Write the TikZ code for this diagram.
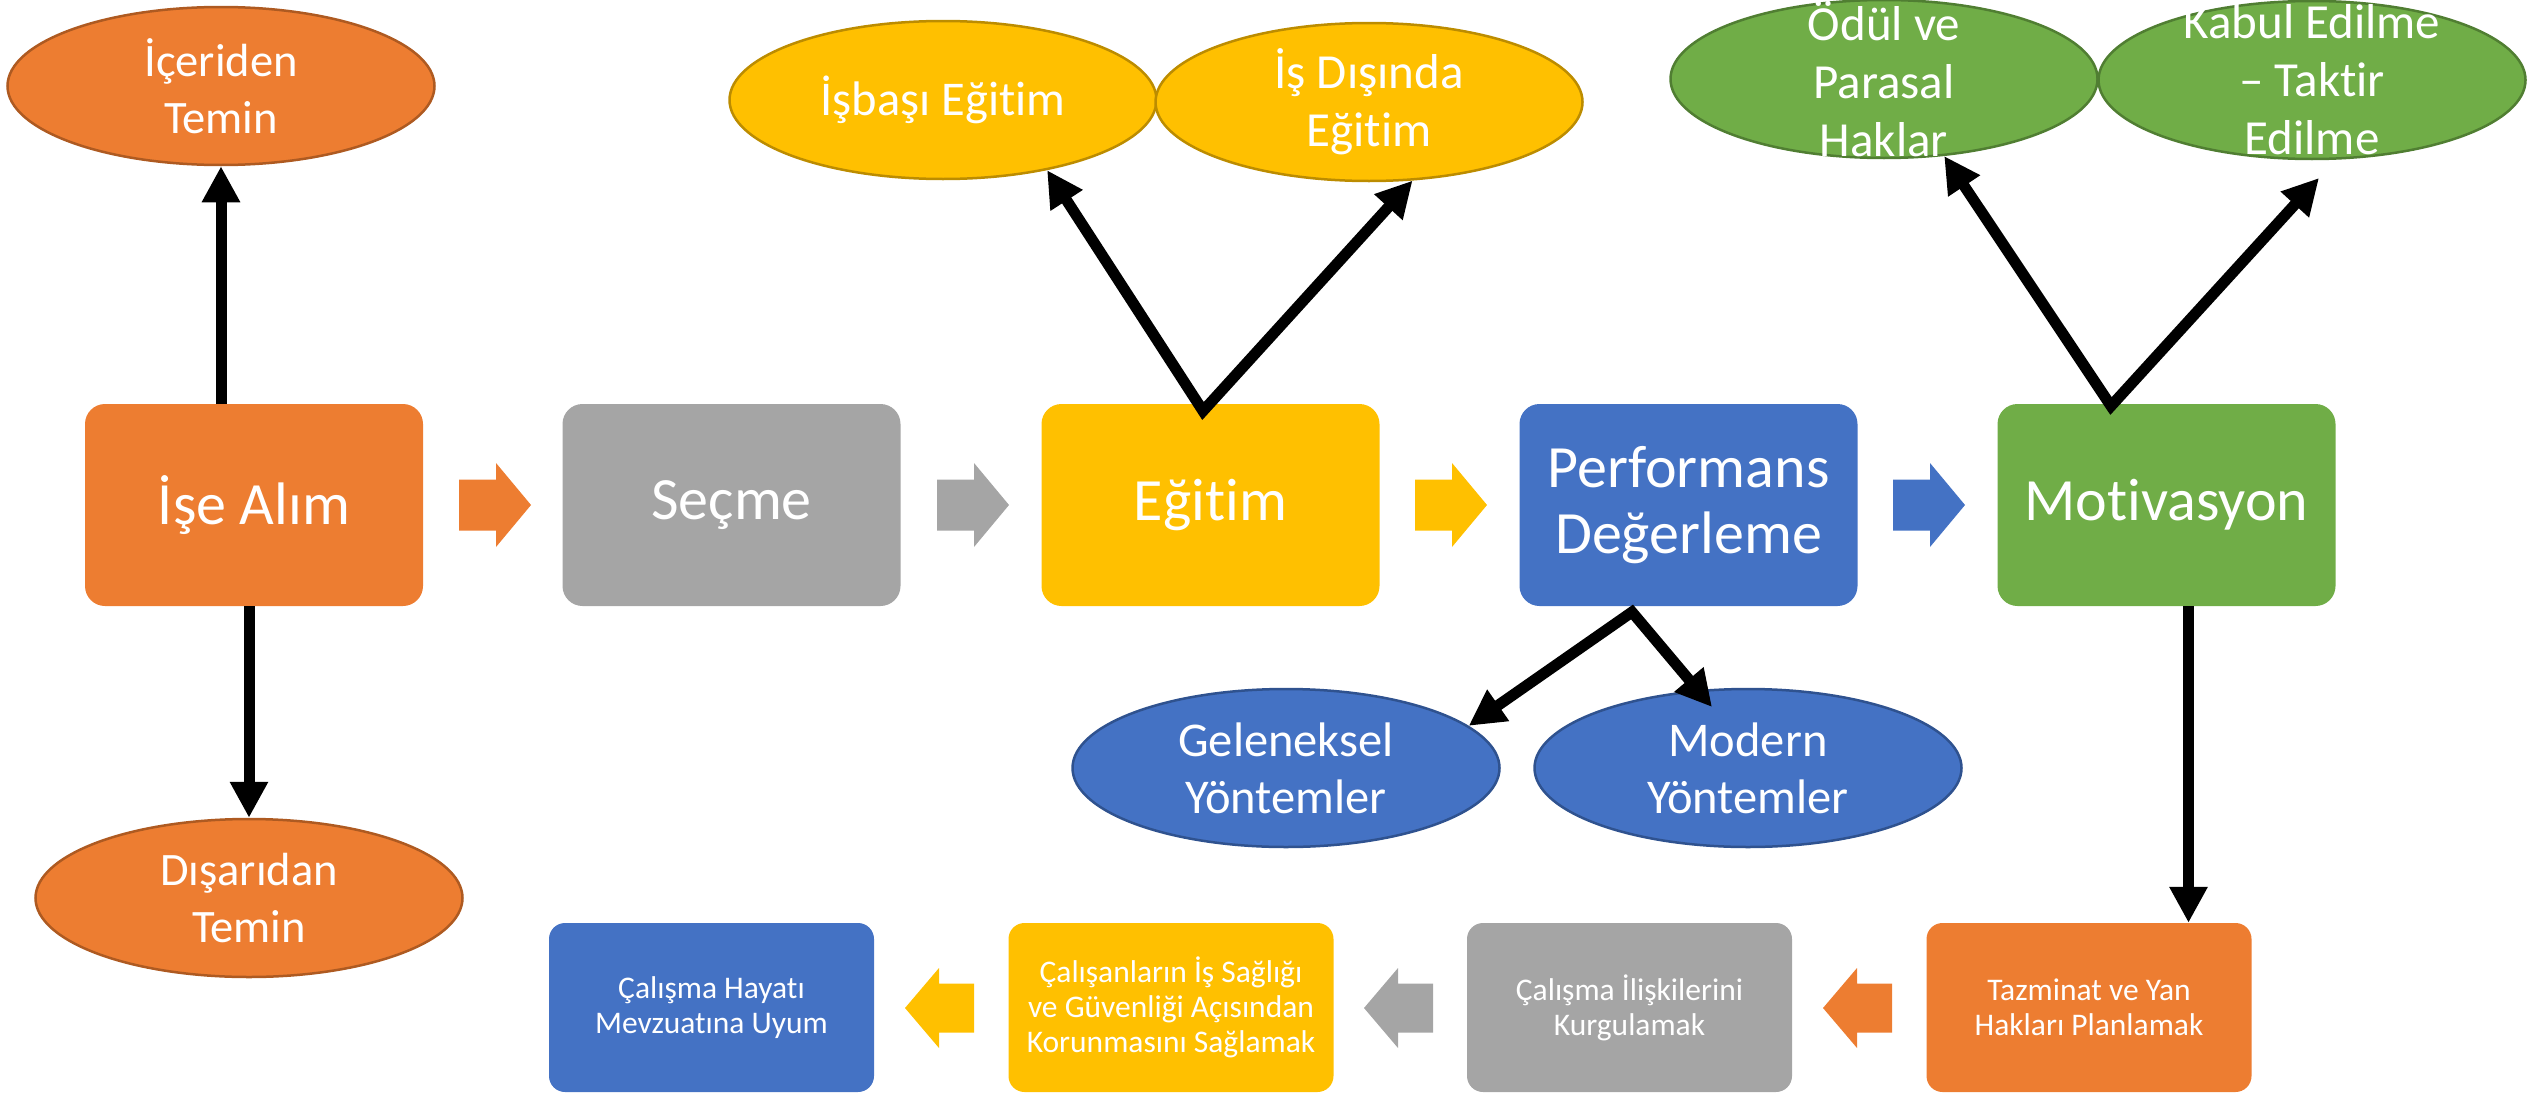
\documentclass[tikz,border=0pt]{standalone}
\usepackage{fontspec}
\setmainfont{Carlito}[Ligatures=CommonOff]
\usetikzlibrary{shapes.geometric,arrows.meta,calc}
\definecolor{cOr}{HTML}{ED7D31}
\definecolor{cOrB}{HTML}{AE5A21}
\definecolor{cGr}{HTML}{A5A5A5}
\definecolor{cYe}{HTML}{FFC000}
\definecolor{cYeB}{HTML}{BC8C00}
\definecolor{cBl}{HTML}{4472C4}
\definecolor{cBlB}{HTML}{2F528F}
\definecolor{cGn}{HTML}{70AD47}
\definecolor{cGnB}{HTML}{507E32}
\tikzset{
  pics/chevr/.style={code={\fill[#1] (-37,-25.5) -- (0,-25.5) -- (0,-42) -- (35,0) -- (0,42) -- (0,25.5) -- (-37,25.5) -- cycle;}},
  pics/chevl/.style={code={\fill[#1] (35,-24.5) -- (0,-24.5) -- (0,-40) -- (-34,0) -- (0,40) -- (0,24.5) -- (35,24.5) -- cycle;}},
}
\begin{document}
\begin{tikzpicture}[x=1pt,y=-1pt,
  mainbox/.style={rectangle, rounded corners=20pt, minimum width=338pt, minimum height=202pt, inner sep=0pt, text=white, align=center, font=\fontsize{60}{66}\selectfont},
  subbox/.style={rectangle, rounded corners=16pt, minimum width=325pt, minimum height=169pt, inner sep=0pt, text=white, align=center, font=\fontsize{31.5}{35}\selectfont},
  ell/.style={ellipse, minimum width=427pt, minimum height=158pt, inner sep=0pt, line width=2.5pt},
  etext/.style={text=white, align=center, inner sep=0pt, font=\fontsize{46.5}{57}\selectfont},
  etextm/.style={text=white, align=center, inner sep=0pt, font=\fontsize{48.5}{57}\selectfont},
  etexts/.style={text=white, align=center, inner sep=0pt, font=\fontsize{49}{58}\selectfont},
  arr/.style={line width=11pt, -{Triangle[length=36pt,width=36pt]}},
  arrboth/.style={line width=11pt, line join=miter, {Triangle[length=36pt,width=36pt]}-{Triangle[length=36pt,width=36pt]}},
]
\useasboundingbox (0,0) rectangle (2529,1092);

% main row
\node[mainbox, fill=cOr] (isealim) at (254,505) {İşe Alım};
\node[mainbox, fill=cGr] (secme) at (731.5,505) {Seçme};
\node[mainbox, fill=cYe] (egitim) at (1210.5,505) {Eğitim};
\node[mainbox, fill=cBl] (perf) at (1688.5,505) {Performans\\Değerleme};
\node[mainbox, fill=cGn] (motiv) at (2166.5,505) {Motivasyon};

\pic at (496,505) {chevr=cOr};
\pic at (974,505) {chevr=cGr};
\pic at (1452,505) {chevr=cYe};
\pic at (1930,505) {chevr=cBl};

% bottom row
\node[subbox, fill=cBl] (mevzuat) at (711.5,1007.5) {Çalışma Hayatı\\Mevzuatına Uyum};
\node[subbox, fill=cYe] (saglik) at (1171,1007.5) {Çalışanların İş Sağlığı\\ve Güvenliği Açısından\\Korunmasını Sağlamak};
\node[subbox, fill=cGr] (iliski) at (1629.5,1007.5) {Çalışma İlişkilerini\\Kurgulamak};
\node[subbox, fill=cOr] (tazminat) at (2089,1007.5) {Tazminat ve Yan\\Hakları Planlamak};

\pic at (939,1008) {chevl=cYe};
\pic at (1398,1008) {chevl=cGr};
\pic at (1857,1008) {chevl=cOr};

% ellipses
\node[ell, fill=cOr, draw=cOrB] (iceriden) at (221,86) {};
\node[etext] (icеridenT) at (iceriden) {İçeriden\\Temin};
\node[ell, fill=cOr, draw=cOrB] (disaridan) at (249,898) {};
\node[etext] (disaridanT) at (disaridan) {Dışarıdan\\Temin};
\node[ell, fill=cYe, draw=cYeB] (isbasi) at (943,100) {};
\node[etextm] (isbasiT) at (isbasi) {İşbaşı Eğitim};
\node[ell, fill=cYe, draw=cYeB] (isdisi) at (1369,102) {};
\node[etexts] (isdisiT) at (isdisi) {İş Dışında\\Eğitim};
\node[ell, fill=cGn, draw=cGnB] (odul) at (1884,79) {};
\node[etexts] (odulT) at (odul) {Ödül ve\\Parasal\\Haklar};
\node[ell, fill=cGn, draw=cGnB] (kabul) at (2312,80) {};
\node[etexts] (kabulT) at (kabul) {Kabul Edilme\\– Taktir\\Edilme};
\node[ell, fill=cBl, draw=cBlB] (gelen) at (1286,768) {};
\node[etextm] (gelenT) at (gelen) {Geleneksel\\Yöntemler};
\node[ell, fill=cBl, draw=cBlB] (modern) at (1748,768) {};
\node[etextm] (modernT) at (modern) {Modern\\Yöntemler};

% connectors
\draw[arr] (isealim.north -| iceriden.south) -- (iceriden.south);
\draw[arr] (isealim.south -| disaridan.north) -- (disaridan.north);

\coordinate (egV) at (1203,411);
\draw[arrboth] (isbasi.-34) -- (egV) -- (isdisi.-61);

\coordinate (pfV) at (1632,612);
\coordinate (modTip) at (1712,707);
\draw[arrboth] (gelen.13.6) -- (pfV) -- (modTip);

\coordinate (mvV) at (2111,406);
\coordinate (kabTip) at (2319,178);
\draw[arrboth] (odul.-52.5) -- (mvV) -- (kabTip);

\coordinate (mvD) at ($(motiv.south)+(22,0)$);
\draw[arr] (mvD) -- (mvD |- tazminat.north);
\end{tikzpicture}
\end{document}
